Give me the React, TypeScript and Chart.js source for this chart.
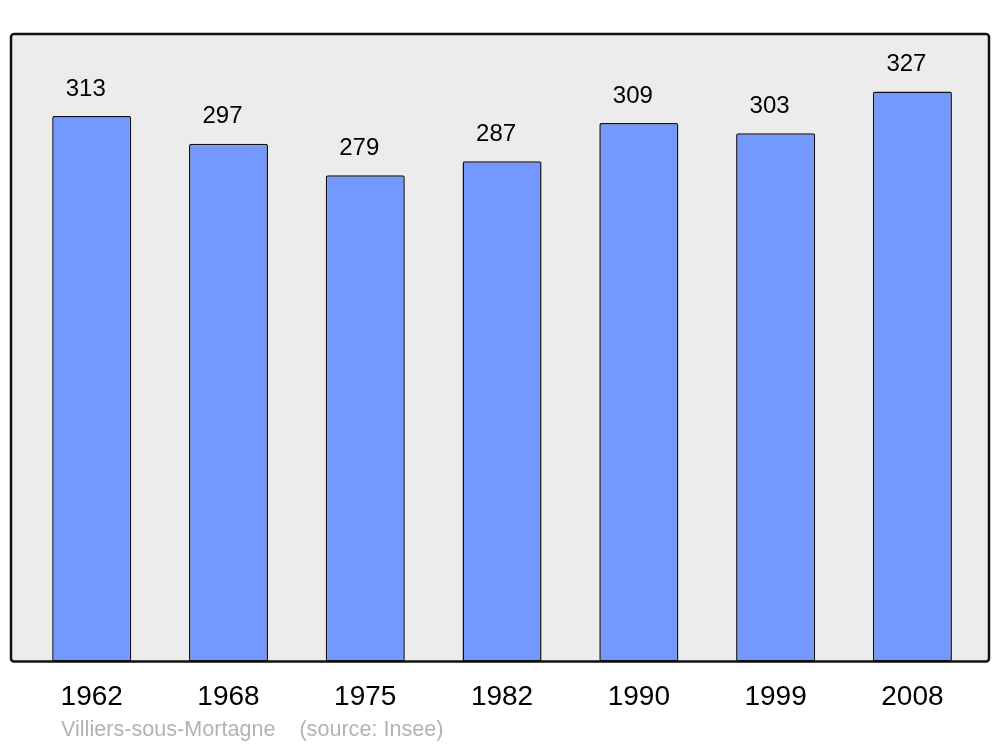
import React, { useEffect, useRef } from "react";
import { Chart, registerables } from "chart.js";

Chart.register(...registerables);

const years: string[] = ["1962", "1968", "1975", "1982", "1990", "1999", "2008"];
const population: number[] = [313, 297, 279, 287, 309, 303, 327];
const footnote = "Villiers-sous-Mortagne    (source: Insee)";

const FONT = "'Liberation Sans', Arial, sans-serif";

const framePlugin = {
  id: "frame",
  beforeDatasetsDraw(chart: any) {
    const { ctx, chartArea } = chart;
    const { left, top, right, bottom } = chartArea;
    ctx.save();
    ctx.beginPath();
    ctx.roundRect(left, top, right - left, bottom - top, 3);
    ctx.fillStyle = "#ececec";
    ctx.fill();
    ctx.restore();
  },
  afterDatasetsDraw(chart: any) {
    const { ctx, chartArea } = chart;
    const { left, top, right, bottom } = chartArea;
    ctx.save();
    ctx.beginPath();
    ctx.roundRect(left, top, right - left, bottom - top, 3);
    ctx.lineWidth = 2.5;
    ctx.strokeStyle = "#111111";
    ctx.stroke();
    // value labels
    const meta = chart.getDatasetMeta(0);
    ctx.fillStyle = "#000000";
    ctx.font = `24px ${FONT}`;
    ctx.textAlign = "center";
    ctx.textBaseline = "middle";
    meta.data.forEach((bar: any, i: number) => {
      ctx.fillText(String(population[i]), bar.x - 6, bar.y - 27);
    });
    // footnote
    ctx.fillStyle = "#b3b3b3";
    ctx.font = `21.6px ${FONT}`;
    ctx.textAlign = "left";
    ctx.fillText(footnote, 61, 730);
    ctx.restore();
  },
};

export default function App() {
  const canvasRef = useRef<HTMLCanvasElement | null>(null);

  useEffect(() => {
    document.body.style.margin = "0";
    const canvas = canvasRef.current;
    if (!canvas) return;
    const chart = new Chart(canvas, {
      type: "bar",
      data: {
        datasets: [
          {
            data: population.map((v, i) => ({ x: i, y: v })),
            backgroundColor: "#7399ff",
            borderColor: "#111111",
            borderWidth: 1.5,
            borderRadius: 2,
            borderSkipped: false,
            categoryPercentage: 1,
            barPercentage: 0.578,
          },
        ],
      },
      options: {
        animation: false,
        responsive: false,
        maintainAspectRatio: false,
        layout: { padding: { left: 11, right: 11, top: 34, bottom: 22 } },
        plugins: {
          legend: { display: false },
          tooltip: { enabled: false },
        },
        scales: {
          x: {
            type: "linear",
            offset: false,
            min: -0.59,
            max: 6.56,
            grid: { display: false },
            border: { display: false },
            afterBuildTicks: (scale: any) => {
              scale.ticks = years.map((_, i) => ({ value: i }));
            },
            ticks: {
              autoSkip: false,
              maxRotation: 0,
              padding: 11,
              color: "#000000",
              font: { family: FONT, size: 28 },
              callback: (value: any) => years[Number(value)] ?? "",
            },
          },
          y: {
            display: false,
            min: 0,
            max: 360,
          },
        },
      },
      plugins: [framePlugin],
    } as any);
    return () => chart.destroy();
  }, []);

  return (
    <div style={{ width: 1000, height: 747 }}>
      <canvas ref={canvasRef} width={1000} height={747} style={{ display: "block" }} />
    </div>
  );
}
